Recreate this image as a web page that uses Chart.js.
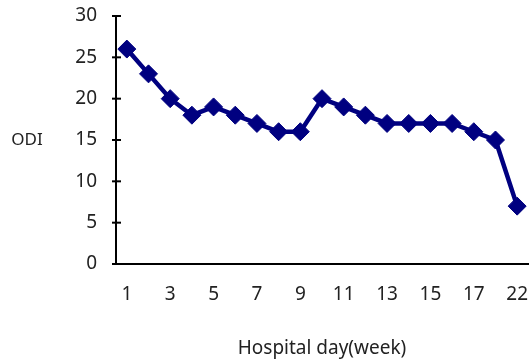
<!DOCTYPE html>
<html>
<head>
<meta charset="utf-8">
<script src="https://cdn.jsdelivr.net/npm/chart.js@4"></script>
<style>
  html, body { margin: 0; padding: 0; background: #fff; }
  #wrap { width: 531px; height: 361px; }
</style>
</head>
<body>
<div id="wrap"><canvas id="myChart"></canvas></div>
<script>
// week labels (19, 20, 21 are not in the source)
var weeks = ['1','2','3','4','5','6','7','8','9','10','11','12','13','14','15','16','17','18','22'];
var odiValues = [26, 23, 20, 18, 19, 18, 17, 16, 16, 20, 19, 18, 17, 17, 17, 17, 16, 15, 7];
var yTicks = [0, 5, 10, 15, 20, 25, 30];

var fontFamily = "'Noto Sans', 'DejaVu Sans', sans-serif";

// ticks that cross the y axis, plus the horizontal "ODI" label
var crossTicks = {
    id: 'crossTicks',
    beforeDatasetsDraw: function(chart) {
        var ctx = chart.ctx;
        var y = chart.scales.y;
        ctx.save();
        ctx.strokeStyle = '#000';
        ctx.lineWidth = 2;
        y.ticks.forEach(function(t) {
            var py = y.getPixelForValue(t.value);
            ctx.beginPath();
            ctx.moveTo(y.right - 4, py);
            ctx.lineTo(y.right + 5, py);
            ctx.stroke();
        });
        ctx.fillStyle = '#222';
        ctx.font = '17px "Noto Sans", sans-serif';
        ctx.textAlign = 'center';
        ctx.textBaseline = 'middle';
        ctx.fillText('ODI', 27, y.getPixelForValue(15));
        ctx.restore();
    }
};

var config = {
    type: 'line',
    data: {
        labels: weeks,
        datasets: [{
            data: odiValues,
            borderColor: '#000080',
            backgroundColor: '#000080',
            borderWidth: 4.5,
            pointStyle: 'rectRot',
            pointRadius: 9,
            pointBorderWidth: 1,
            tension: 0
        }]
    },
    options: {
        responsive: true,
        maintainAspectRatio: false,
        animation: false,
        layout: { autoPadding: false, padding: { left: 0, right: 3, top: 16, bottom: 0 } },
        plugins: {
            legend: { display: false },
            tooltip: { enabled: false }
        },
        scales: {
            x: {
                offset: true,
                grid: { display: false, drawTicks: false },
                border: { color: '#000', width: 2 },
                ticks: {
                    autoSkip: false,
                    maxRotation: 0,
                    padding: 19,
                    color: '#222',
                    font: { family: fontFamily, size: 19 },
                    callback: function(val, i) {
                        return i % 2 === 0 ? this.getLabelForValue(val) : '';
                    }
                },
                title: {
                    display: true,
                    text: 'Hospital day(week)',
                    color: '#222',
                    font: { family: fontFamily, size: 19 },
                    padding: { top: 0, bottom: 1 }
                },
                afterFit: function(scale) {
                    scale.height = 97;
                    scale.paddingLeft = 0;
                    scale.paddingRight = 0;
                }
            },
            y: {
                min: 0,
                max: 30,
                grid: { display: false, drawTicks: false },
                border: { color: '#000', width: 2 },
                afterBuildTicks: function(scale) {
                    scale.ticks = yTicks.map(function(v) { return { value: v }; });
                },
                ticks: {
                    padding: 19,
                    color: '#222',
                    font: { family: fontFamily, size: 19 }
                },
                afterFit: function(scale) {
                    scale.width = 116;
                    scale.paddingTop = 0;
                    scale.paddingBottom = 0;
                }
            }
        }
    },
    plugins: [crossTicks]
};

var ctx = document.getElementById('myChart').getContext('2d');
var odiChart = new Chart(ctx, config);
</script>
</body>
</html>
